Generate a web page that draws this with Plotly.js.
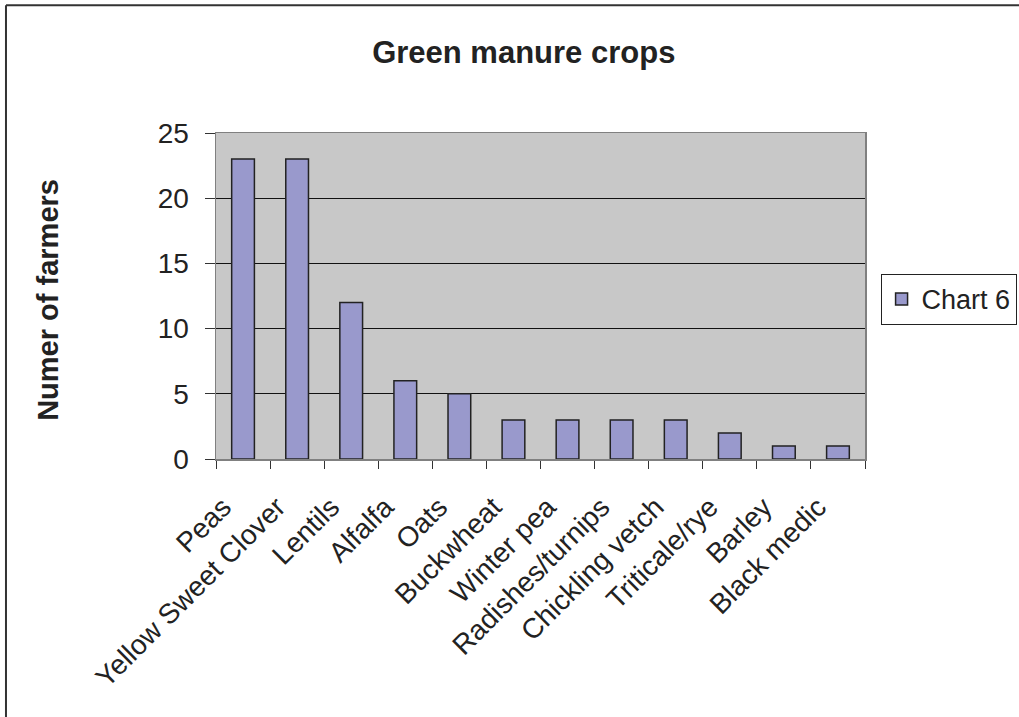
<!DOCTYPE html>
<html>
<head>
<meta charset="utf-8">
<script src="https://cdn.plot.ly/plotly-3.0.1.min.js"></script>
<style>
  html, body { margin: 0; padding: 0; background: #ffffff; }
  #chart { width: 1019px; height: 717px; }
</style>
</head>
<body>
<div id="chart"></div>
<script>
// Green manure crops used by farmers
const crops = ["Peas", "Yellow Sweet Clover", "Lentils", "Alfalfa", "Oats", "Buckwheat",
               "Winter pea", "Radishes/turnips", "Chickling vetch", "Triticale/rye", "Barley", "Black medic"];
const farmers = [23, 23, 12, 6, 5, 3, 3, 3, 3, 2, 1, 1];
const yTicks = [0, 5, 10, 15, 20, 25];
const seriesName = "Chart 6";
const chartTitle = "Green manure crops";
const yTitle = "Numer of farmers";

const font = "Liberation Sans, Arial, sans-serif";
const ink = "#222222";

const trace = {
  type: "bar",
  x: crops,
  y: farmers,
  name: seriesName,
  width: 0.42,
  marker: { color: "#9999CC", line: { color: "#222222", width: 1.5 } },
  showlegend: true,
  hoverinfo: "x+y"
};

const layout = {
  width: 1019,
  height: 717,
  margin: { l: 216, r: 154, t: 133, b: 258, pad: 0, autoexpand: false },
  paper_bgcolor: "#ffffff",
  plot_bgcolor: "#C8C8C8",
  font: { family: font, color: ink, size: 26 },
  title: {
    text: "<b>" + chartTitle + "</b>",
    font: { family: font, size: 31, color: ink },
    x: 0.514, xanchor: "center",
    y: 0.927, yanchor: "middle"
  },
  xaxis: {
    type: "category",
    tickangle: -45,
    tickson: "boundaries",
    ticks: "outside",
    ticklen: 8,
    tickcolor: "#333333",
    showline: true,
    mirror: true,
    linecolor: "#808080",
    linewidth: 1.5,
    showgrid: false,
    tickfont: { family: font, size: 28, color: ink },
    ticklabelstandoff: 19,
    ticklabelshift: -20,
    range: [-0.5, crops.length - 0.5],
    automargin: false
  },
  yaxis: {
    range: [0, 25],
    tickvals: yTicks,
    ticktext: yTicks.map(String),
    ticks: "outside",
    ticklen: 10,
    tickcolor: "#333333",
    showline: true,
    mirror: true,
    linecolor: "#808080",
    linewidth: 1.5,
    showgrid: true,
    gridcolor: "#111111",
    gridwidth: 1,
    zeroline: false,
    tickfont: { family: font, size: 28, color: ink },
    ticklabelstandoff: 10,
    automargin: false
  },
  legend: {
    x: 1.024, xanchor: "left",
    y: 0.568, yanchor: "top",
    bgcolor: "#ffffff",
    bordercolor: "#222222",
    borderwidth: 1,
    font: { family: font, size: 27, color: ink },
    itemwidth: 30,
    entrywidth: 150
  },
  annotations: [{
    text: "<b>" + yTitle + "</b>",
    xref: "paper", yref: "paper",
    x: -0.259, y: 0.488,
    xanchor: "center", yanchor: "middle",
    textangle: -90,
    showarrow: false,
    font: { family: font, size: 29, color: ink }
  }],
  shapes: [
    // chart frame: top and left edges (the rest runs past the page)
    { type: "line", xref: "paper", yref: "paper",
      x0: -0.3236, x1: 1.5, y0: 1.392, y1: 1.392,
      line: { color: "#333333", width: 2 } },
    { type: "line", xref: "paper", yref: "paper",
      x0: -0.3236, x1: -0.3236, y0: 1.392, y1: -1.0,
      line: { color: "#333333", width: 2 } }
  ]
};

Plotly.newPlot("chart", [trace], layout, { displayModeBar: false, staticPlot: true });
</script>
</body>
</html>
